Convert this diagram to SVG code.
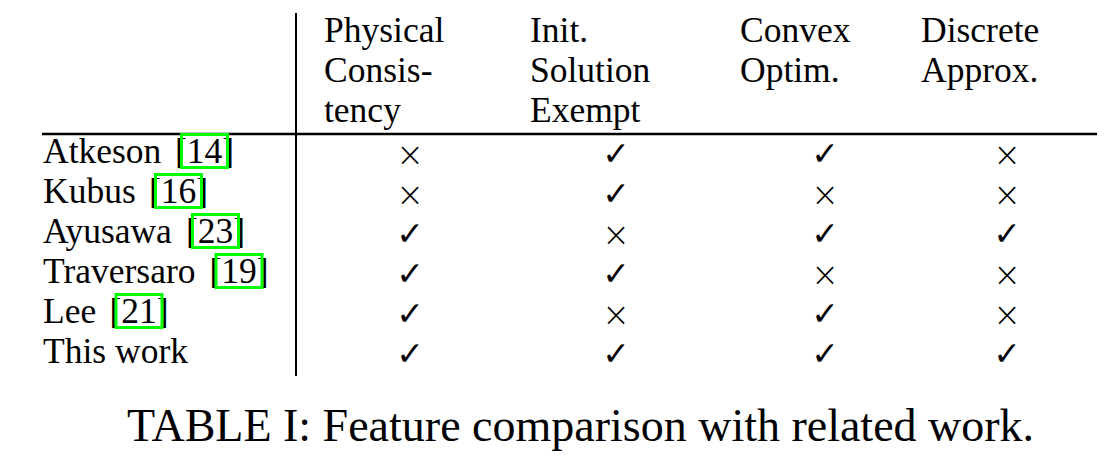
<svg xmlns="http://www.w3.org/2000/svg" width="1120" height="458" viewBox="0 0 1120 458">
<style>
.t{font-family:"Liberation Serif","Times New Roman",serif;font-size:35.5px;fill:#000}
.cap{font-family:"Liberation Serif","Times New Roman",serif;font-size:46px;fill:#000}
.x{font-family:"DejaVu Sans",sans-serif;font-weight:200;font-size:33px;fill:#000;text-anchor:middle}
.c{font-family:"DejaVu Sans",sans-serif;font-size:33px;fill:#000;text-anchor:middle}
.box{fill:none;stroke:#00ff00;stroke-width:3}
.rule{stroke:#000;fill:none}
</style>
<rect width="1120" height="458" fill="#fff"/>
<g id="rules">
<line class="rule" x1="296" y1="13" x2="296" y2="376" stroke-width="2"/>
<line class="rule" x1="42" y1="134" x2="1097" y2="134" stroke-width="2.5"/>
</g>
<g id="header">
<text class="t" x="324" y="42">Physical</text>
<text class="t" x="324" y="82">Consis-</text>
<text class="t" x="324" y="122">tency</text>
<text class="t" x="530" y="42">Init.</text>
<text class="t" x="530" y="82">Solution</text>
<text class="t" x="530" y="122">Exempt</text>
<text class="t" x="740" y="42">Convex</text>
<text class="t" x="740" y="82">Optim.</text>
<text class="t" x="921" y="42">Discrete</text>
<text class="t" x="921" y="82">Approx.</text>
</g>
<g id="row-atkeson">
<text class="t" x="43" y="163">Atkeson</text>
<text class="t" x="175" y="163">[14]</text>
<rect class="box" x="181.5" y="134.5" width="46" height="33"/>
<text class="x" x="410" y="166">×</text>
<text class="c" x="616" y="165">✓</text>
<text class="c" x="825" y="165">✓</text>
<text class="x" x="1007" y="166">×</text>
</g>
<g id="row-kubus">
<text class="t" x="43" y="203">Kubus</text>
<text class="t" x="149" y="203">[16]</text>
<rect class="box" x="155.5" y="174.5" width="46" height="33"/>
<text class="x" x="410" y="206">×</text>
<text class="c" x="616" y="205">✓</text>
<text class="x" x="825" y="206">×</text>
<text class="x" x="1007" y="206">×</text>
</g>
<g id="row-ayusawa">
<text class="t" x="43" y="243">Ayusawa</text>
<text class="t" x="186" y="243">[23]</text>
<rect class="box" x="192.5" y="214.5" width="46" height="33"/>
<text class="c" x="410" y="245">✓</text>
<text class="x" x="616" y="246">×</text>
<text class="c" x="825" y="245">✓</text>
<text class="c" x="1007" y="245">✓</text>
</g>
<g id="row-traversaro">
<text class="t" x="43" y="283">Traversaro</text>
<text class="t" x="209.5" y="283">[19]</text>
<rect class="box" x="216" y="254.5" width="46" height="33"/>
<text class="c" x="410" y="285">✓</text>
<text class="c" x="616" y="285">✓</text>
<text class="x" x="825" y="286">×</text>
<text class="x" x="1007" y="286">×</text>
</g>
<g id="row-lee">
<text class="t" x="43" y="323">Lee</text>
<text class="t" x="109.5" y="323">[21]</text>
<rect class="box" x="116" y="294.5" width="46" height="33"/>
<text class="c" x="410" y="325">✓</text>
<text class="x" x="616" y="326">×</text>
<text class="c" x="825" y="325">✓</text>
<text class="x" x="1007" y="326">×</text>
</g>
<g id="row-thiswork">
<text class="t" x="43" y="363">This work</text>
<text class="c" x="410" y="365">✓</text>
<text class="c" x="616" y="365">✓</text>
<text class="c" x="825" y="365">✓</text>
<text class="c" x="1007" y="365">✓</text>
</g>
<g id="caption">
<text class="cap" x="127" y="441">TABLE I: Feature comparison with related work.</text>
</g>
</svg>
